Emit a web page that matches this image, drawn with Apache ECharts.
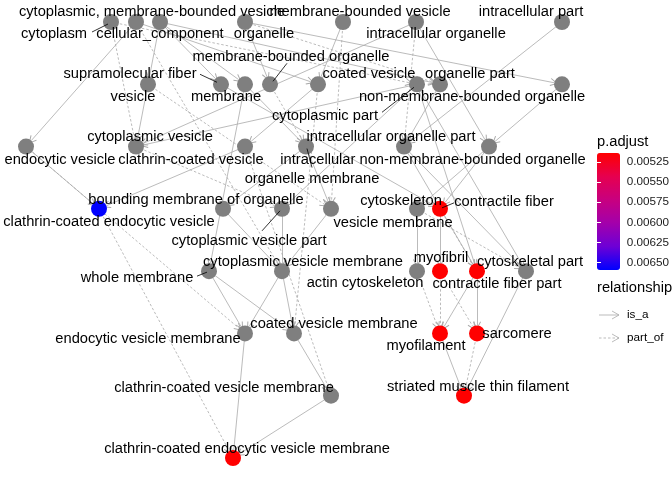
<!DOCTYPE html>
<html>
<head>
<meta charset="utf-8">
<script src="https://cdn.jsdelivr.net/npm/echarts@6/dist/echarts.min.js"></script>
<style>
    html, body { margin: 0; padding: 0; background: #fff; }
    #main { width: 672px; height: 480px; }
</style>
</head>
<body>
<div id="main"></div>
<script>
// GO terms: name, layout x, layer (row), p.adjust (null = not enriched)
var termNames = [
    'cytoplasm', 'cytoplasmic, membrane-bounded vesicle', 'cellular_component', 'organelle',
    'membrane-bounded vesicle', 'intracellular organelle', 'intracellular part',
    'vesicle', 'supramolecular fiber', 'membrane', 'membrane-bounded organelle', 'coated vesicle',
    'cytoplasmic part', 'organelle part', 'non-membrane-bounded organelle',
    'endocytic vesicle', 'cytoplasmic vesicle', 'clathrin-coated vesicle', 'organelle membrane',
    'intracellular organelle part', 'intracellular non-membrane-bounded organelle',
    'clathrin-coated endocytic vesicle', 'bounding membrane of organelle', 'cytoplasmic vesicle part',
    'vesicle membrane', 'cytoskeleton', 'contractile fiber',
    'whole membrane', 'cytoplasmic vesicle membrane', 'actin cytoskeleton', 'myofibril',
    'contractile fiber part', 'cytoskeletal part',
    'endocytic vesicle membrane', 'coated vesicle membrane', 'myofilament', 'sarcomere',
    'clathrin-coated vesicle membrane', 'striated muscle thin filament',
    'clathrin-coated endocytic vesicle membrane'
];
var termX = [
    111, 136, 160, 245, 343, 416, 562,
    148, 221, 245, 270, 318, 417, 440, 562,
    26, 136, 245, 306, 404, 489,
    99, 223, 282, 331, 417, 440,
    209, 282, 417, 440, 477, 526,
    245, 294, 440, 477,
    331, 464,
    233
];
var termLayer = [
    0, 0, 0, 0, 0, 0, 0,
    1, 1, 1, 1, 1, 1, 1, 1,
    2, 2, 2, 2, 2, 2,
    3, 3, 3, 3, 3, 3,
    4, 4, 4, 4, 4, 4,
    5, 5, 5, 5,
    6, 6,
    7
];
var termPadj = [
    null, null, null, null, null, null, null,
    null, null, null, null, null, null, null, null,
    null, null, null, null, null, null,
    0.00659, null, null, null, null, 0.00514,
    null, null, null, 0.00514, 0.00514, null,
    null, null, 0.00514, 0.00514,
    null, 0.00514,
    0.00514
];

// parent -> child
var isA = [
    ['cytoplasmic, membrane-bounded vesicle', 'endocytic vesicle'],
    ['vesicle', 'cytoplasmic vesicle'],
    ['cytoplasmic part', 'cytoplasmic vesicle'],
    ['intracellular organelle', 'cytoplasmic vesicle'],
    ['cellular_component', 'vesicle'],
    ['cellular_component', 'supramolecular fiber'],
    ['cellular_component', 'membrane'],
    ['cellular_component', 'organelle part'],
    ['organelle', 'membrane-bounded organelle'],
    ['organelle', 'non-membrane-bounded organelle'],
    ['membrane-bounded vesicle', 'coated vesicle'],
    ['cytoplasmic, membrane-bounded vesicle', 'coated vesicle'],
    ['intracellular organelle', 'intracellular non-membrane-bounded organelle'],
    ['intracellular part', 'intracellular organelle part'],
    ['organelle part', 'intracellular organelle part'],
    ['non-membrane-bounded organelle', 'intracellular non-membrane-bounded organelle'],
    ['membrane', 'organelle membrane'],
    ['organelle membrane', 'bounding membrane of organelle'],
    ['coated vesicle', 'clathrin-coated vesicle'],
    ['clathrin-coated vesicle', 'clathrin-coated endocytic vesicle'],
    ['endocytic vesicle', 'clathrin-coated endocytic vesicle'],
    ['cytoplasmic part', 'cytoplasmic vesicle part'],
    ['organelle membrane', 'vesicle membrane'],
    ['intracellular non-membrane-bounded organelle', 'cytoskeleton'],
    ['intracellular non-membrane-bounded organelle', 'contractile fiber'],
    ['supramolecular fiber', 'contractile fiber'],
    ['cytoplasmic vesicle part', 'cytoplasmic vesicle membrane'],
    ['vesicle membrane', 'cytoplasmic vesicle membrane'],
    ['bounding membrane of organelle', 'cytoplasmic vesicle membrane'],
    ['membrane', 'whole membrane'],
    ['cytoskeleton', 'actin cytoskeleton'],
    ['contractile fiber', 'myofibril'],
    ['cytoplasmic part', 'contractile fiber part'],
    ['intracellular organelle part', 'contractile fiber part'],
    ['intracellular organelle part', 'cytoskeletal part'],
    ['cytoplasmic part', 'cytoskeletal part'],
    ['cytoplasmic vesicle membrane', 'endocytic vesicle membrane'],
    ['whole membrane', 'endocytic vesicle membrane'],
    ['cytoplasmic vesicle membrane', 'coated vesicle membrane'],
    ['whole membrane', 'coated vesicle membrane'],
    ['contractile fiber part', 'myofilament'],
    ['contractile fiber part', 'sarcomere'],
    ['coated vesicle membrane', 'clathrin-coated vesicle membrane'],
    ['myofilament', 'striated muscle thin filament'],
    ['cytoskeletal part', 'striated muscle thin filament'],
    ['endocytic vesicle membrane', 'clathrin-coated endocytic vesicle membrane'],
    ['clathrin-coated vesicle membrane', 'clathrin-coated endocytic vesicle membrane']
];
var partOf = [
    ['cytoplasm', 'cytoplasmic vesicle'],
    ['organelle', 'organelle part'],
    ['membrane-bounded vesicle', 'vesicle membrane'],
    ['intracellular organelle', 'intracellular organelle part'],
    ['cytoplasm', 'cytoplasmic part'],
    ['membrane-bounded organelle', 'organelle membrane'],
    ['cytoplasmic vesicle', 'cytoplasmic vesicle part'],
    ['cytoplasmic, membrane-bounded vesicle', 'cytoplasmic vesicle membrane'],
    ['vesicle', 'vesicle membrane'],
    ['contractile fiber', 'contractile fiber part'],
    ['cytoskeleton', 'cytoskeletal part'],
    ['endocytic vesicle', 'endocytic vesicle membrane'],
    ['coated vesicle', 'coated vesicle membrane'],
    ['myofibril', 'myofilament'],
    ['actin cytoskeleton', 'myofilament'],
    ['myofibril', 'sarcomere'],
    ['clathrin-coated vesicle', 'clathrin-coated vesicle membrane'],
    ['sarcomere', 'striated muscle thin filament'],
    ['clathrin-coated endocytic vesicle', 'clathrin-coated endocytic vesicle membrane']
];

var padjMin = 0.00514, padjMax = 0.00659;
var padjTicks = [0.00525, 0.0055, 0.00575, 0.006, 0.00625, 0.0065];

// label placement (pixel offset of label centre from node), as repelled in the original
var labelOffset = {
    'cytoplasm': [-57, 12], 'cytoplasmic, membrane-bounded vesicle': [16, -10],
    'cellular_component': [0, 12], 'organelle': [19, 12], 'membrane-bounded vesicle': [17, -10],
    'intracellular organelle': [20, 12], 'intracellular part': [-31, -10],
    'vesicle': [-15, 13], 'supramolecular fiber': [-91, -10], 'membrane': [-19, 13],
    'membrane-bounded organelle': [21, -27], 'coated vesicle': [51, -10],
    'cytoplasmic part': [-92, 32], 'organelle part': [30, -10],
    'non-membrane-bounded organelle': [-90, 13],
    'endocytic vesicle': [34, 13], 'cytoplasmic vesicle': [14, -10],
    'clathrin-coated vesicle': [-54, 13], 'organelle membrane': [6, 32],
    'intracellular organelle part': [-13, -10],
    'intracellular non-membrane-bounded organelle': [-56, 13],
    'clathrin-coated endocytic vesicle': [10, 13], 'bounding membrane of organelle': [-27, -9],
    'cytoplasmic vesicle part': [-33, 32], 'vesicle membrane': [62, 14],
    'cytoskeleton': [-16, -8], 'contractile fiber': [64, -7],
    'whole membrane': [-72, 7], 'cytoplasmic vesicle membrane': [21, -9],
    'actin cytoskeleton': [-52, 12], 'myofibril': [1, -13],
    'contractile fiber part': [20, 13], 'cytoskeletal part': [4, -9],
    'endocytic vesicle membrane': [-97, 6], 'coated vesicle membrane': [40, -9],
    'myofilament': [-14, 13], 'sarcomere': [40, 1],
    'clathrin-coated vesicle membrane': [-107, -8], 'striated muscle thin filament': [14, -9],
    'clathrin-coated endocytic vesicle membrane': [14, -9]
};
// ggrepel segments: [from, to] offsets from the node
var leaders = {
    'cytoplasm': [[-19, 10], [-3, 2]],
    'supramolecular fiber': [[-21, -10], [-4, -2]],
    'membrane-bounded organelle': [[17, -21], [3, -3]],
    'cytoplasmic part': [[-35, 28], [-3, 3]],
    'organelle membrane': [[6, 21], [1, 2]],
    'cytoplasmic vesicle part': [[-20, 22], [-2, 2]],
    'contractile fiber': [[14, -6], [2, -1]],
    'whole membrane': [[-12, 5], [-2, 1]]
};

var gradStops = ['#ff0000', '#e6004f', '#c8007f', '#a300ab', '#6d00d6', '#0000ff'];
var font = 'Liberation Sans, Arial, sans-serif';
var edgeColor = '#a9a9a9';
var arrowPath = 'path://M0,10 L5,0 L10,10 L9,10.8 L5,2.6 L1,10.8 Z';

var nodes = termNames.map(function (name, i) {
    var p = termPadj[i];
    var color = p == null ? '#7f7f7f'
        : echarts.color.lerp((p - padjMin) / (padjMax - padjMin), gradStops);
    return {
        name: name,
        value: [termX[i], termLayer[i]],
        itemStyle: { color: color },
        label: { offset: labelOffset[name] || [0, 0] }
    };
});
var links = [];
isA.forEach(function (e) {
    links.push({ source: e[0], target: e[1], lineStyle: { type: 'solid' } });
});
partOf.forEach(function (e) {
    links.push({ source: e[0], target: e[1], lineStyle: { type: [2.5, 2] } });
});

var chart = echarts.init(document.getElementById('main'));
chart.setOption({
    animation: false,
    backgroundColor: '#fff',
    textStyle: { fontFamily: font },
    grid: [
        { left: 0, right: 0, top: 22, bottom: 22 },
        { left: 597, top: 153, width: 23, height: 117 }
    ],
    xAxis: [
        { type: 'value', min: 0, max: 672, show: false, gridIndex: 0 },
        { type: 'value', min: 0, max: 1, show: false, gridIndex: 1 }
    ],
    yAxis: [
        { type: 'value', min: 0, max: 7, inverse: true, show: false, gridIndex: 0 },
        {
            type: 'value', gridIndex: 1, min: padjMin, max: padjMax, inverse: true,
            position: 'right', z: 10,
            axisLine: { show: false }, splitLine: { show: false },
            axisTick: { inside: true, length: 4, customValues: padjTicks,
                lineStyle: { color: '#fff', width: 1 } },
            axisLabel: { customValues: padjTicks, margin: 7, fontSize: 11.7, color: '#1a1a1a',
                fontFamily: font,
                formatter: function (v) { return v.toFixed(5); } }
        },
        {
            type: 'value', gridIndex: 1, min: padjMin, max: padjMax, inverse: true,
            position: 'left', z: 10,
            axisLine: { show: false }, splitLine: { show: false },
            axisTick: { inside: true, length: 4, customValues: padjTicks,
                lineStyle: { color: '#fff', width: 1 } },
            axisLabel: { show: false }
        }
    ],
    visualMap: {
        type: 'continuous', seriesIndex: 1, min: padjMin, max: padjMax,
        inverse: true, calculable: false, orient: 'vertical',
        left: 597, top: 153, itemWidth: 23, itemHeight: 117, padding: 0,
        inRange: { color: gradStops }, text: null, showLabel: false
    },
    series: [
        {
            type: 'graph',
            coordinateSystem: 'cartesian2d',
            xAxisIndex: 0, yAxisIndex: 0,
            silent: true,
            symbol: 'circle',
            symbolSize: 16,
            edgeSymbol: ['none', arrowPath],
            edgeSymbolSize: [0, 8],
            lineStyle: { color: edgeColor, width: 0.8, opacity: 1, curveness: 0 },
            label: {
                show: true, position: 'inside', color: '#000',
                fontSize: 14.7, fontFamily: font
            },
            data: nodes,
            links: links
        },
        {
            type: 'scatter', xAxisIndex: 1, yAxisIndex: 1, data: [], silent: true
        }
    ]
});

// leader segments and the relationship legend
var gfx = [];
Object.keys(leaders).forEach(function (name) {
    var i = termNames.indexOf(name);
    var c = chart.convertToPixel({ gridIndex: 0 }, [termX[i], termLayer[i]]);
    var seg = leaders[name];
    gfx.push({
        type: 'line', z: 100, silent: true,
        shape: { x1: c[0] + seg[0][0], y1: c[1] + seg[0][1], x2: c[0] + seg[1][0], y2: c[1] + seg[1][1] },
        style: { stroke: '#000', lineWidth: 0.8 }
    });
});
function legendText(x, y, text, size) {
    return { type: 'text', x: x, y: y, silent: true,
        style: { text: text, fill: '#000', font: size + 'px ' + font, verticalAlign: 'middle' } };
}
gfx.push(legendText(597, 142, 'p.adjust', 14.7));
gfx.push(legendText(597, 288, 'relationship', 14.7));
[['is_a', 315, 'solid'], ['part_of', 338, [2.5, 2]]].forEach(function (k) {
    gfx.push({ type: 'line', silent: true,
        shape: { x1: 599, y1: k[1], x2: 619, y2: k[1] },
        style: { stroke: edgeColor, lineWidth: 0.8, lineDash: k[2] === 'solid' ? null : k[2] } });
    gfx.push({ type: 'polyline', silent: true,
        shape: { points: [[612, k[1] - 4], [619, k[1]], [612, k[1] + 4]] },
        style: { stroke: edgeColor, lineWidth: 0.8, fill: null } });
    gfx.push(legendText(627, k[1], k[0], 11.7));
});
chart.setOption({ graphic: gfx });
</script>
</body>
</html>
